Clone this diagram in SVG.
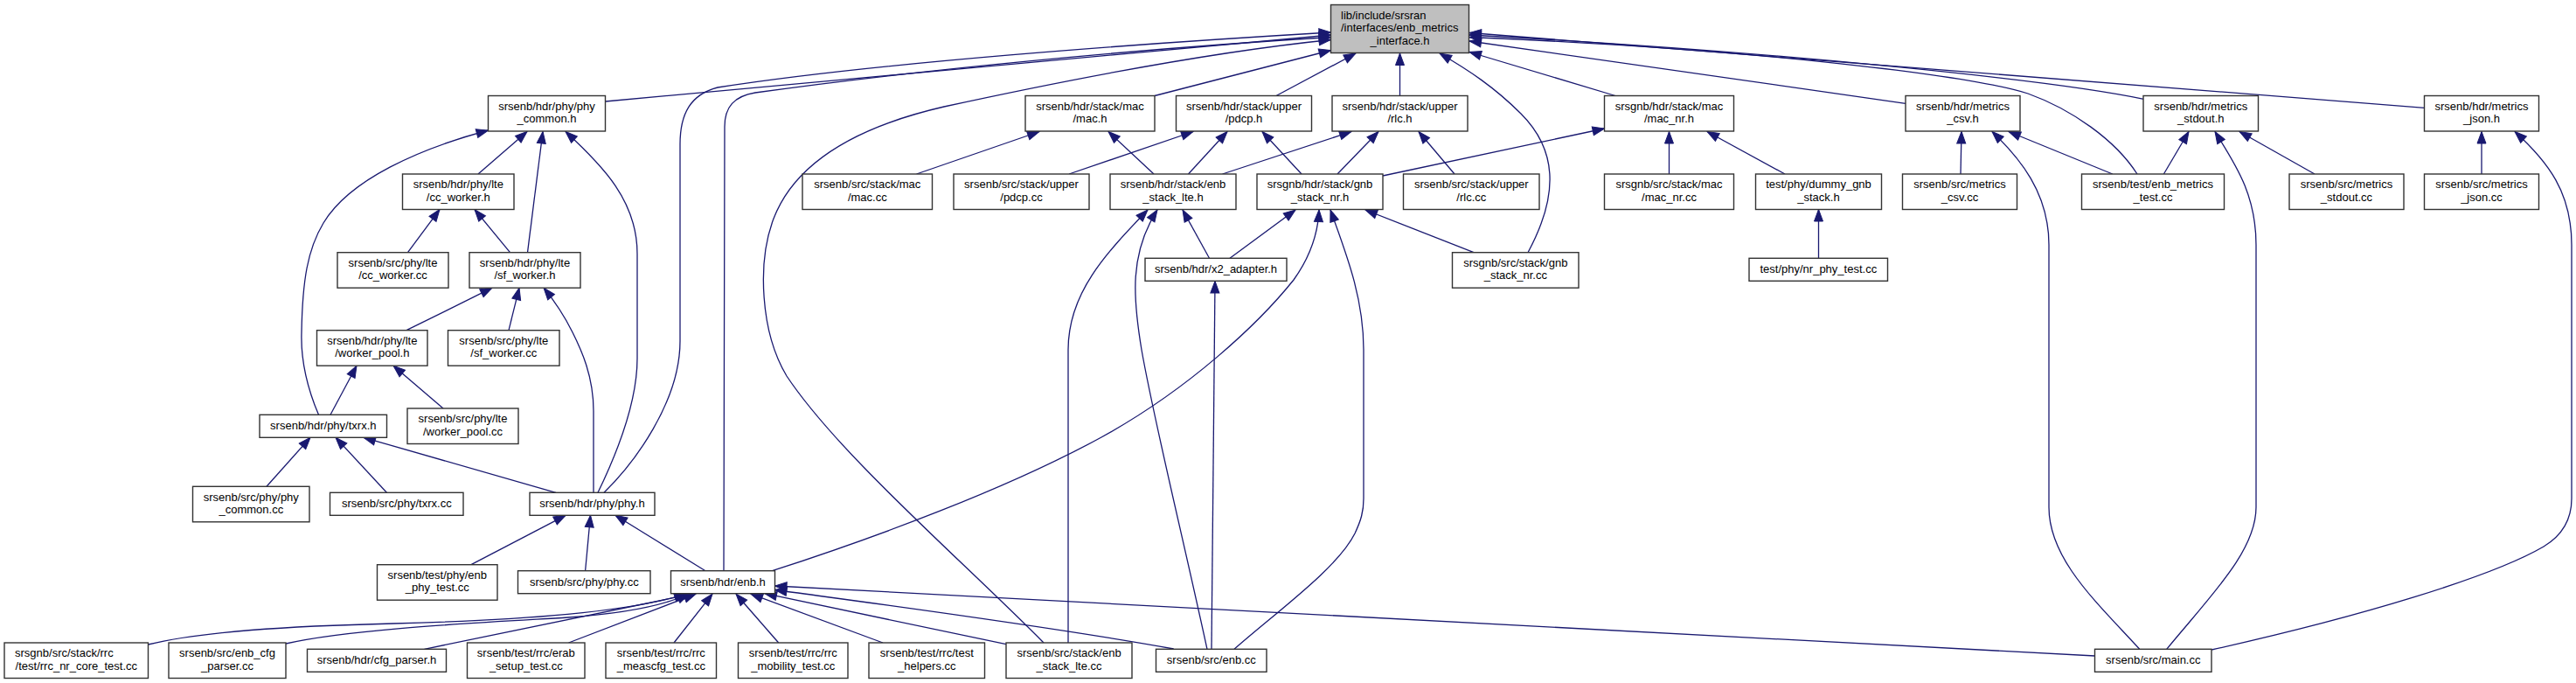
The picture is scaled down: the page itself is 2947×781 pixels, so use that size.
<svg xmlns="http://www.w3.org/2000/svg" width="2947" height="781" viewBox="0 0 2947 781">
<style>
.node rect{fill:#ffffff;stroke:#333333;stroke-width:1.4}
.node.root rect{fill:#bfbfbf}
.node text{font-family:"Liberation Sans",Arial,Helvetica,sans-serif;font-size:13px;fill:#000000;text-anchor:middle}
.node text.l{text-anchor:start}
.edges path{fill:none;stroke:#191970;stroke-width:1.3;marker-end:url(#arr)}
</style>
<defs>
<marker id="arr" markerWidth="16" markerHeight="12" refX="13.5" refY="5" orient="auto" markerUnits="userSpaceOnUse" overflow="visible">
<path d="M0,0 L13.5,5 L0,10 Z" fill="#191970" stroke="#191970" stroke-width="1"/>
</marker>
</defs>
<rect x="0" y="0" width="2947" height="781" fill="#ffffff"/>
<g id="edges" class="edges">
<path d="M692.5,116 L1522.5,40"/>
<path d="M691,563.3 C725,530 778,460 778,390 L778,165 C778,130 790,108 821,100 C1000,72 1300,50 1522.5,37"/>
<path d="M828,652.7 L829,145 C829,122 840,110 864,106 C1050,80 1300,56 1522.5,42.5"/>
<path d="M1194,735 C1100,640 960,520 900,430 C870,380 866,300 885,250 C910,185 980,145 1080,122 C1250,85 1400,58 1522.5,45.5"/>
<path d="M1321,109.5 L1522.5,57.5"/>
<path d="M1460,109.5 L1551,61"/>
<path d="M1601.5,109.5 L1601.5,61"/>
<path d="M1748,288.7 C1785,220 1780,170 1740,130 C1710,100 1680,80 1647,61"/>
<path d="M1848,109.5 L1681,59.5"/>
<path d="M2180,118.3 L1681,47"/>
<path d="M2452.5,113.3 C2350,92 2050,60 1681,40"/>
<path d="M2773.6,123.3 L1681,37.5"/>
<path d="M2445,199 C2420,160 2370,125 2320,107 C2250,85 2000,56 1681,42.5"/>
<path d="M547,199 L603,150.5"/>
<path d="M603.5,288.7 L621,150.5"/>
<path d="M364.5,474.3 C350,440 344,410 345,380 C346,320 352,285 370,255 C400,205 480,170 558.5,149"/>
<path d="M684,563.3 C705,520 729,460 729,410 L729,290 C729,230 690,190 647,150.5"/>
<path d="M466.5,288.7 L503,239.5"/>
<path d="M583.5,288.7 L543,239.5"/>
<path d="M465,377.7 L563,329.2"/>
<path d="M582,377.7 L594,329.2"/>
<path d="M679,563.3 L679,470 C679,430 665,400 655,380 C645,360 635,345 622,329.2"/>
<path d="M378,474.3 L408,418.2"/>
<path d="M507,467 L450,418.2"/>
<path d="M305,556.3 L355,500.3"/>
<path d="M442.4,563.3 L384,500.3"/>
<path d="M636,563.3 L416,500.3"/>
<path d="M539,645.7 L647,589.3"/>
<path d="M669.6,652.7 L675.5,589.3"/>
<path d="M807,652.7 L704,589.3"/>
<path d="M169.5,737 C230,722 330,716 450,713 C600,709 720,700 785,679"/>
<path d="M327,736 C400,719 550,712 650,706 C720,701 765,690 788,679"/>
<path d="M485.5,742.3 L792,679.2"/>
<path d="M650.5,735 L796,679.2"/>
<path d="M771,735 L815,679.2"/>
<path d="M890.7,735 L842,679.2"/>
<path d="M1010,735 L859,679.2"/>
<path d="M1151,736.7 L875,678.7"/>
<path d="M1342.7,742 C1200,716 1000,690 886.5,674.5"/>
<path d="M2396.5,750 L886.5,670"/>
<path d="M883.5,652.7 C1000,615 1150,560 1260,500 C1360,445 1440,370 1480,320 C1500,292 1508,265 1509,240"/>
<path d="M1407,295.3 L1482,240"/>
<path d="M1686,288.7 L1562,240"/>
<path d="M1412,742.3 C1460,700 1530,650 1550,610 C1557,595 1560,585 1560,570 L1560,400 C1560,340 1540,290 1522,240"/>
<path d="M1383.5,295.3 L1353,240"/>
<path d="M1222,735 L1222,400 C1222,335 1265,290 1313,240"/>
<path d="M1381,742.3 C1350,600 1320,480 1306,400 C1296,340 1292,290 1324,240"/>
<path d="M1386,742.3 L1390,321.5"/>
<path d="M1048.5,199 L1189,150.5"/>
<path d="M1320,199 L1268,150.5"/>
<path d="M1223,199 L1365,150.5"/>
<path d="M1359.5,199 L1404,150.5"/>
<path d="M1489,199 L1444,150.5"/>
<path d="M1398.5,199 L1546,150.5"/>
<path d="M1530,199 L1577,150.5"/>
<path d="M1664,199 L1623,150.5"/>
<path d="M1582,201 L1835.5,147"/>
<path d="M1909.5,199 L1909.5,150.5"/>
<path d="M2042,199 L1953,150.5"/>
<path d="M2080.5,295.3 L2080.5,239.5"/>
<path d="M2243,199 L2244,150.5"/>
<path d="M2416.8,199 L2298,150.5"/>
<path d="M2447.7,742.3 C2400,690 2344,640 2344,580 L2344,280 C2344,220 2310,180 2279,150.5"/>
<path d="M2475.4,199 L2504,150.5"/>
<path d="M2478.7,742.3 C2530,680 2581,630 2581,580 L2581,280 C2581,220 2555,185 2534,150.5"/>
<path d="M2648,199 L2562,150.5"/>
<path d="M2839,199 L2839,150.5"/>
<path d="M2530.2,743 C2700,705 2850,660 2910,625 C2935,610 2942,590 2942,570 L2942,280 C2942,220 2915,185 2877,150.5"/>
</g>
<g id="n_main" class="node root"><rect x="1522.5" y="5.5" width="158" height="55"/><text class="l" x="1534" y="21.7">lib/include/srsran</text><text class="l" x="1534" y="36.2">/interfaces/enb_metrics</text><text x="1601.5" y="50.7">_interface.h</text></g>
<g id="n_phy_common_h" class="node"><rect x="558.5" y="109.5" width="134" height="40.5"/><text x="625.5" y="125.7">srsenb/hdr/phy/phy</text><text x="625.5" y="140.2">_common.h</text></g>
<g id="n_mac_h" class="node"><rect x="1173" y="109.5" width="148" height="40.5"/><text x="1247" y="125.7">srsenb/hdr/stack/mac</text><text x="1247" y="140.2">/mac.h</text></g>
<g id="n_pdcp_h" class="node"><rect x="1345.5" y="109.5" width="155" height="40.5"/><text x="1423" y="125.7">srsenb/hdr/stack/upper</text><text x="1423" y="140.2">/pdcp.h</text></g>
<g id="n_rlc_h" class="node"><rect x="1524" y="109.5" width="155" height="40.5"/><text x="1601.5" y="125.7">srsenb/hdr/stack/upper</text><text x="1601.5" y="140.2">/rlc.h</text></g>
<g id="n_mac_nr_h" class="node"><rect x="1835.5" y="109.5" width="148" height="40.5"/><text x="1909.5" y="125.7">srsgnb/hdr/stack/mac</text><text x="1909.5" y="140.2">/mac_nr.h</text></g>
<g id="n_metrics_csv_h" class="node"><rect x="2180" y="109.5" width="131" height="40.5"/><text x="2245.5" y="125.7">srsenb/hdr/metrics</text><text x="2245.5" y="140.2">_csv.h</text></g>
<g id="n_metrics_stdout_h" class="node"><rect x="2452" y="109.5" width="131.5" height="40.5"/><text x="2517.8" y="125.7">srsenb/hdr/metrics</text><text x="2517.8" y="140.2">_stdout.h</text></g>
<g id="n_metrics_json_h" class="node"><rect x="2773.5" y="109.5" width="131" height="40.5"/><text x="2839" y="125.7">srsenb/hdr/metrics</text><text x="2839" y="140.2">_json.h</text></g>
<g id="n_cc_worker_h" class="node"><rect x="460.5" y="199" width="127.5" height="40.5"/><text x="524.3" y="215.2">srsenb/hdr/phy/lte</text><text x="524.3" y="229.7">/cc_worker.h</text></g>
<g id="n_mac_cc" class="node"><rect x="918" y="199" width="148.5" height="40.5"/><text x="992.3" y="215.2">srsenb/src/stack/mac</text><text x="992.3" y="229.7">/mac.cc</text></g>
<g id="n_pdcp_cc" class="node"><rect x="1091" y="199" width="155" height="40.5"/><text x="1168.5" y="215.2">srsenb/src/stack/upper</text><text x="1168.5" y="229.7">/pdcp.cc</text></g>
<g id="n_enb_stack_lte_h" class="node"><rect x="1270" y="199" width="144" height="40.5"/><text x="1342" y="215.2">srsenb/hdr/stack/enb</text><text x="1342" y="229.7">_stack_lte.h</text></g>
<g id="n_gnb_stack_nr_h" class="node"><rect x="1438" y="199" width="144" height="40.5"/><text x="1510" y="215.2">srsgnb/hdr/stack/gnb</text><text x="1510" y="229.7">_stack_nr.h</text></g>
<g id="n_rlc_cc" class="node"><rect x="1605.5" y="199" width="155.5" height="40.5"/><text x="1683.3" y="215.2">srsenb/src/stack/upper</text><text x="1683.3" y="229.7">/rlc.cc</text></g>
<g id="n_mac_nr_cc" class="node"><rect x="1835.5" y="199" width="148" height="40.5"/><text x="1909.5" y="215.2">srsgnb/src/stack/mac</text><text x="1909.5" y="229.7">/mac_nr.cc</text></g>
<g id="n_dummy_gnb_stack_h" class="node"><rect x="2008.5" y="199" width="144" height="40.5"/><text x="2080.5" y="215.2">test/phy/dummy_gnb</text><text x="2080.5" y="229.7">_stack.h</text></g>
<g id="n_metrics_csv_cc" class="node"><rect x="2176.5" y="199" width="131" height="40.5"/><text x="2242" y="215.2">srsenb/src/metrics</text><text x="2242" y="229.7">_csv.cc</text></g>
<g id="n_enb_metrics_test_cc" class="node"><rect x="2381.5" y="199" width="163" height="40.5"/><text x="2463" y="215.2">srsenb/test/enb_metrics</text><text x="2463" y="229.7">_test.cc</text></g>
<g id="n_metrics_stdout_cc" class="node"><rect x="2619" y="199" width="131" height="40.5"/><text x="2684.5" y="215.2">srsenb/src/metrics</text><text x="2684.5" y="229.7">_stdout.cc</text></g>
<g id="n_metrics_json_cc" class="node"><rect x="2773.5" y="199" width="131" height="40.5"/><text x="2839" y="215.2">srsenb/src/metrics</text><text x="2839" y="229.7">_json.cc</text></g>
<g id="n_cc_worker_cc" class="node"><rect x="386" y="288.7" width="127" height="40.5"/><text x="449.5" y="304.9">srsenb/src/phy/lte</text><text x="449.5" y="319.4">/cc_worker.cc</text></g>
<g id="n_sf_worker_h" class="node"><rect x="537" y="288.7" width="127" height="40.5"/><text x="600.5" y="304.9">srsenb/hdr/phy/lte</text><text x="600.5" y="319.4">/sf_worker.h</text></g>
<g id="n_x2_adapter_h" class="node"><rect x="1310" y="295.3" width="162" height="26"/><text x="1391" y="312.3">srsenb/hdr/x2_adapter.h</text></g>
<g id="n_gnb_stack_nr_cc" class="node"><rect x="1661.5" y="288.7" width="144.5" height="40.5"/><text x="1733.8" y="304.9">srsgnb/src/stack/gnb</text><text x="1733.8" y="319.4">_stack_nr.cc</text></g>
<g id="n_nr_phy_test_cc" class="node"><rect x="2001" y="295.3" width="158.5" height="26"/><text x="2080.3" y="312.3">test/phy/nr_phy_test.cc</text></g>
<g id="n_worker_pool_h" class="node"><rect x="362.5" y="377.7" width="126.5" height="40.5"/><text x="425.8" y="393.9">srsenb/hdr/phy/lte</text><text x="425.8" y="408.4">/worker_pool.h</text></g>
<g id="n_sf_worker_cc" class="node"><rect x="512.5" y="377.7" width="127.5" height="40.5"/><text x="576.3" y="393.9">srsenb/src/phy/lte</text><text x="576.3" y="408.4">/sf_worker.cc</text></g>
<g id="n_txrx_h" class="node"><rect x="297" y="474.3" width="145.5" height="26"/><text x="369.8" y="491.3">srsenb/hdr/phy/txrx.h</text></g>
<g id="n_worker_pool_cc" class="node"><rect x="466" y="467" width="127" height="40.5"/><text x="529.5" y="483.2">srsenb/src/phy/lte</text><text x="529.5" y="497.7">/worker_pool.cc</text></g>
<g id="n_phy_common_cc" class="node"><rect x="220.5" y="556.3" width="133.5" height="40.5"/><text x="287.3" y="572.5">srsenb/src/phy/phy</text><text x="287.3" y="587">_common.cc</text></g>
<g id="n_txrx_cc" class="node"><rect x="377.5" y="563.3" width="152.5" height="26"/><text x="453.8" y="580.3">srsenb/src/phy/txrx.cc</text></g>
<g id="n_phy_h" class="node"><rect x="606" y="563.3" width="143" height="26"/><text x="677.5" y="580.3">srsenb/hdr/phy/phy.h</text></g>
<g id="n_enb_phy_test_cc" class="node"><rect x="431.5" y="645.7" width="137.5" height="40.5"/><text x="500.3" y="661.9">srsenb/test/phy/enb</text><text x="500.3" y="676.4">_phy_test.cc</text></g>
<g id="n_phy_cc" class="node"><rect x="592.5" y="652.7" width="151.5" height="26"/><text x="668.3" y="669.7">srsenb/src/phy/phy.cc</text></g>
<g id="n_enb_h" class="node"><rect x="767.5" y="652.7" width="119" height="26"/><text x="827" y="669.7">srsenb/hdr/enb.h</text></g>
<g id="n_rrc_nr_core_test_cc" class="node"><rect x="5" y="735" width="164.5" height="40.5"/><text class="l" x="17" y="751.2">srsgnb/src/stack/rrc</text><text x="87.3" y="765.7">/test/rrc_nr_core_test.cc</text></g>
<g id="n_enb_cfg_parser_cc" class="node"><rect x="193" y="735" width="134" height="40.5"/><text x="260" y="751.2">srsenb/src/enb_cfg</text><text x="260" y="765.7">_parser.cc</text></g>
<g id="n_cfg_parser_h" class="node"><rect x="351.5" y="742.3" width="159" height="26"/><text x="431" y="759.3">srsenb/hdr/cfg_parser.h</text></g>
<g id="n_erab_setup_test_cc" class="node"><rect x="534.5" y="735" width="134.5" height="40.5"/><text x="601.8" y="751.2">srsenb/test/rrc/erab</text><text x="601.8" y="765.7">_setup_test.cc</text></g>
<g id="n_rrc_meascfg_test_cc" class="node"><rect x="693" y="735" width="126.5" height="40.5"/><text x="756.3" y="751.2">srsenb/test/rrc/rrc</text><text x="756.3" y="765.7">_meascfg_test.cc</text></g>
<g id="n_rrc_mobility_test_cc" class="node"><rect x="844.5" y="735" width="125.5" height="40.5"/><text x="907.3" y="751.2">srsenb/test/rrc/rrc</text><text x="907.3" y="765.7">_mobility_test.cc</text></g>
<g id="n_test_helpers_cc" class="node"><rect x="994" y="735" width="132.5" height="40.5"/><text x="1060.3" y="751.2">srsenb/test/rrc/test</text><text x="1060.3" y="765.7">_helpers.cc</text></g>
<g id="n_enb_stack_lte_cc" class="node"><rect x="1151" y="735" width="144" height="40.5"/><text x="1223" y="751.2">srsenb/src/stack/enb</text><text x="1223" y="765.7">_stack_lte.cc</text></g>
<g id="n_enb_cc" class="node"><rect x="1322.5" y="742.3" width="126.5" height="26"/><text x="1385.8" y="759.3">srsenb/src/enb.cc</text></g>
<g id="n_main_cc" class="node"><rect x="2396.5" y="742.3" width="133.5" height="26"/><text x="2463.3" y="759.3">srsenb/src/main.cc</text></g>
</svg>
